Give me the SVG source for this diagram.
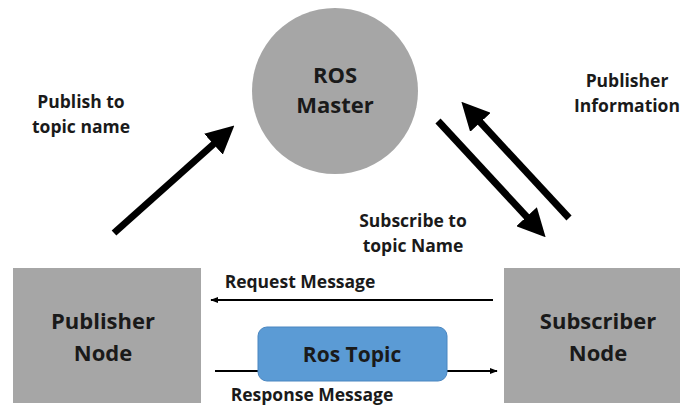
<svg xmlns="http://www.w3.org/2000/svg" width="680" height="408" viewBox="0 0 680 408">
<style>
.t{font-family:"Open Sans","Liberation Sans",sans-serif;font-weight:bold;fill:#1a1a1a;text-anchor:middle}
.big{font-size:22px}
.mid{font-size:21px}
.lbl{font-size:17.5px}
.node{fill:#a6a6a6}
.thick{stroke:#000;stroke-width:7;fill:none}
.thin{stroke:#000;stroke-width:2;fill:none}
</style>
<defs>
<marker id="big" viewBox="0 0 10 10" refX="6" refY="5" markerWidth="4" markerHeight="4" orient="auto" markerUnits="strokeWidth">
<path d="M0,0 L10,5 L0,10 z" fill="#000"/>
</marker>
<marker id="small" viewBox="0 0 10 10" refX="9" refY="5" markerWidth="4" markerHeight="4" orient="auto" markerUnits="strokeWidth">
<path d="M0,1 L10,5 L0,9 z" fill="#000"/>
</marker>
</defs>
<rect width="680" height="408" fill="#fff"/>
<g id="connectors">
<line class="thick" x1="114" y1="233" x2="226" y2="133" marker-end="url(#big)"/>
<line class="thick" x1="438" y1="121" x2="538" y2="229" marker-end="url(#big)"/>
<line class="thick" x1="569" y1="218" x2="469" y2="110" marker-end="url(#big)"/>
<line class="thin" x1="493" y1="300" x2="211" y2="300" marker-end="url(#small)"/>
<line class="thin" x1="215" y1="371" x2="260" y2="371"/>
<line class="thin" x1="445" y1="371" x2="497" y2="371" marker-end="url(#small)"/>
</g>
<g id="ros-master">
<circle class="node" cx="335" cy="91" r="83"/>
<text class="t big" x="335" y="83">ROS</text>
<text class="t big" x="335" y="113">Master</text>
</g>
<g id="publisher-node">
<rect class="node" x="13" y="268" width="188" height="135"/>
<text class="t big" x="103" y="329">Publisher</text>
<text class="t big" x="103" y="361">Node</text>
</g>
<g id="subscriber-node">
<rect class="node" x="504" y="268" width="186" height="135"/>
<text class="t big" x="598" y="329">Subscriber</text>
<text class="t big" x="598" y="361">Node</text>
</g>
<g id="ros-topic">
<rect x="258" y="327" width="189" height="54" rx="9" fill="#5b9bd5" stroke="#4a86c0" stroke-width="1"/>
<text class="t mid" x="352" y="362">Ros Topic</text>
</g>
<g id="labels">
<text class="t lbl" x="81" y="108">Publish to</text>
<text class="t lbl" x="81" y="133">topic name</text>
<text class="t lbl" x="627" y="87">Publisher</text>
<text class="t lbl" x="627" y="112">Information</text>
<text class="t lbl" x="413" y="227">Subscribe to</text>
<text class="t lbl" x="413" y="252">topic Name</text>
<text class="t lbl" x="300" y="288">Request Message</text>
<text class="t lbl" x="312" y="401">Response Message</text>
</g>
</svg>
